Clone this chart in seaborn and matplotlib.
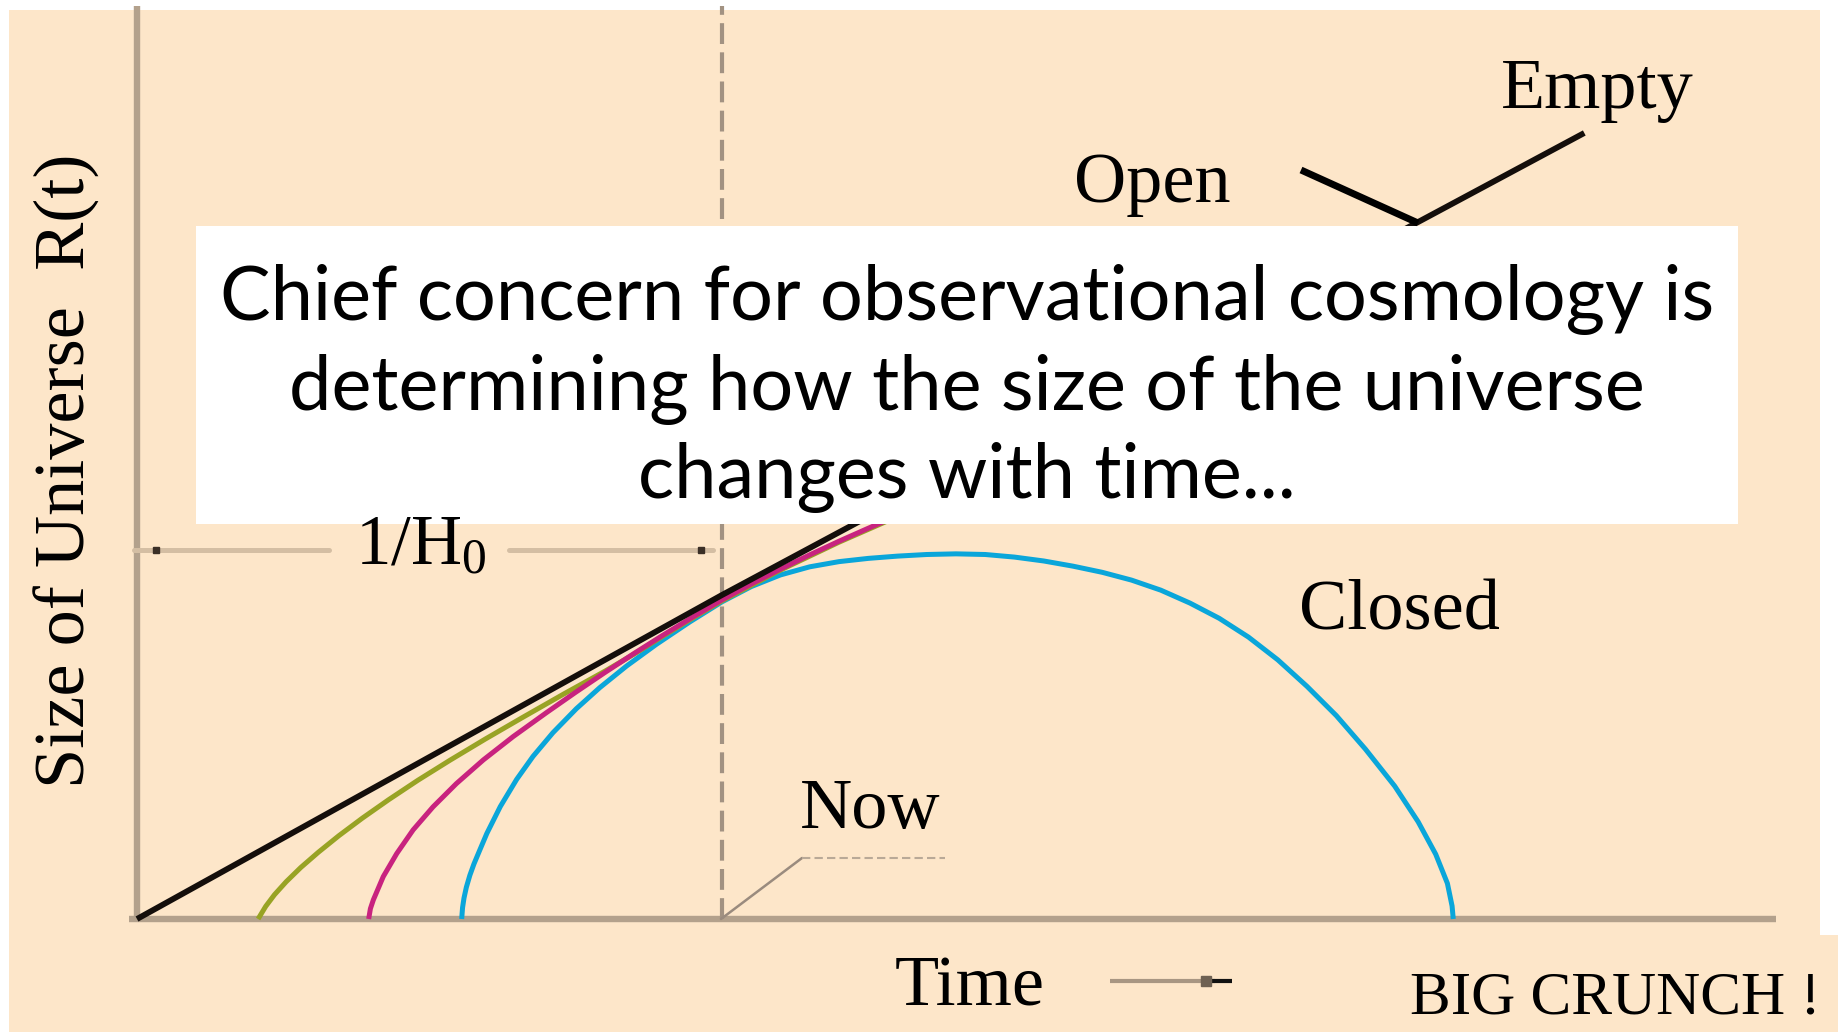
import matplotlib
matplotlib.use("Agg")
import matplotlib.pyplot as plt
from matplotlib.patches import Rectangle
import pandas as pd
import seaborn as sns

# ---------------- data (time in units of 1/H0, size in units of R(now)) ----------------
empty_t = [0.0, 1.0, 2.474]
empty_R = [0.0, 1.0, 2.426]

open_t = [0.207, 0.220, 0.235, 0.255, 0.280, 0.310, 0.345, 0.385, 0.430, 0.480,
          0.535, 0.595, 0.660, 0.730, 0.800, 0.850, 0.900, 0.950, 1.000, 1.100,
          1.200, 1.300]
open_R = [0.000, 0.039, 0.075, 0.115, 0.159, 0.206, 0.257, 0.311, 0.368, 0.428,
          0.490, 0.555, 0.623, 0.695, 0.765, 0.818, 0.874, 0.929, 0.982, 1.077,
          1.163, 1.242]

flat_t = [0.396, 0.399, 0.404, 0.421, 0.444, 0.472, 0.506, 0.546, 0.592, 0.643,
          0.700, 0.750, 0.800, 0.850, 0.900, 0.950, 1.000, 1.050, 1.100, 1.150,
          1.200, 1.250, 1.300, 1.360]
flat_R = [0.000, 0.032, 0.059, 0.131, 0.202, 0.275, 0.346, 0.418, 0.491, 0.563,
          0.637, 0.700, 0.761, 0.820, 0.877, 0.932, 0.985, 1.034, 1.080, 1.124,
          1.166, 1.206, 1.245, 1.290]

closed_t = [0.555, 0.5565, 0.559, 0.563, 0.569, 0.576, 0.586, 0.598, 0.621, 0.649,
            0.677, 0.711, 0.751, 0.791, 0.837, 0.888, 0.945, 1.000, 1.050, 1.100,
            1.150, 1.200, 1.250, 1.300, 1.350, 1.400, 1.450, 1.500, 1.550, 1.600,
            1.650, 1.700, 1.750, 1.800, 1.850, 1.900, 1.950, 2.000, 2.050, 2.100,
            2.150, 2.190, 2.220, 2.240, 2.248, 2.250]
closed_R = [0.000, 0.035, 0.065, 0.098, 0.135, 0.170, 0.213, 0.264, 0.347, 0.431,
            0.502, 0.575, 0.649, 0.714, 0.781, 0.848, 0.917, 0.979, 1.026, 1.062,
            1.087, 1.103, 1.113, 1.120, 1.125, 1.127, 1.125, 1.117, 1.105, 1.089,
            1.070, 1.046, 1.015, 0.975, 0.928, 0.870, 0.800, 0.718, 0.628, 0.524,
            0.410, 0.300, 0.200, 0.110, 0.040, 0.000]

models = ["Closed", "Open", "Flat", "Empty"]          # drawing order (last on top)
colors = {"Closed": "#0aa6da", "Flat": "#c8237f", "Open": "#98a324", "Empty": "#140e0b"}
widths = {"Closed": 3.6, "Flat": 3.6, "Open": 3.6, "Empty": 4.2}

box_lines = ["Chief concern for observational cosmology is",
             "determining how the size of the universe",
             "changes with time..."]
ylabel = "Size of Universe  R(t)"
xlabel = "Time"

# ---------------- figure ----------------
sns.set_theme(style="white")
plt.rcParams["font.family"] = ["Liberation Serif", "DejaVu Serif"]
plt.rcParams["mathtext.fontset"] = "custom"
plt.rcParams["mathtext.rm"] = "Liberation Serif"
plt.rcParams["mathtext.it"] = "Liberation Serif:italic"

W, H = 1838, 1032
fig = plt.figure(figsize=(W / 100, H / 100), dpi=100, facecolor="white")
ax = fig.add_axes([0, 0, 1, 1])

X0, Y0, SX, SY = 137, 919, 585, 324   # origin pixel and pixels per unit


def tx(x):
    return (x - X0) / SX


def ry(y):
    return (Y0 - y) / SY


ax.set_xlim(tx(0), tx(W))
ax.set_ylim(ry(H), ry(0))
ax.axis("off")

BG = "#fde6c9"
ax.add_patch(Rectangle((tx(9), ry(H)), (1820 - 9) / SX, (H - 10) / SY,
                       facecolor=BG, edgecolor="none", zorder=0))
ax.add_patch(Rectangle((tx(1815), ry(H)), (W - 1815) / SX, (H - 935) / SY,
                       facecolor=BG, edgecolor="none", zorder=0))

# axes lines
AXC = "#b3a18c"
ax.plot([tx(X0), tx(X0)], [0, ry(6)], color=AXC, lw=4.6, zorder=1, solid_capstyle="butt")
ax.plot([tx(129), tx(1776)], [0, 0], color=AXC, lw=4.6, zorder=1, solid_capstyle="butt")
# "now" dashed line
ax.plot([1, 1], [0, ry(6)], color="#a29282", lw=3.0, dashes=(5, 2), zorder=1)

# curves
frames = []
for name, t, r in [("Closed", closed_t, closed_R), ("Flat", flat_t, flat_R),
                   ("Open", open_t, open_R), ("Empty", empty_t, empty_R)]:
    frames.append(pd.DataFrame({"t": t, "R": r, "model": name}))
df = pd.concat(frames, ignore_index=True)
for name in models:
    sns.lineplot(data=df[df["model"] == name], x="t", y="R", color=colors[name],
                 estimator=None, sort=True, linewidth=widths[name], legend=False,
                 ax=ax, zorder=3)
    ax.lines[-1].set_solid_capstyle("butt")
    ax.lines[-1].set_solid_joinstyle("round")

# white text box
ax.add_patch(Rectangle((tx(196), ry(524)), (1738 - 196) / SX, (524 - 226) / SY,
                       facecolor="white", edgecolor="none", zorder=5))
for line, yb in zip(box_lines, [320, 410, 498]):
    ax.text(tx(967), ry(yb), line, ha="center", va="baseline", fontsize=54.5,
            family=["Lato", "DejaVu Sans"], color="black", zorder=6)

# "Open" pointer
ax.plot([tx(1301), tx(1418)], [ry(170), ry(223)], color="black", lw=5,
        solid_capstyle="butt", zorder=6)

# 1/H0 marker
LC = "#d4bea3"
ax.plot([tx(134), tx(329)], [ry(550), ry(550)], color=LC, lw=3.6, zorder=2)
ax.plot([tx(509), tx(713)], [ry(550), ry(550)], color=LC, lw=3.6, zorder=2)
ax.plot([tx(156), tx(701)], [ry(550), ry(550)], ls="none", marker="s", ms=4,
        color="#3a2f26", zorder=2)
ax.text(tx(421), ry(565), r"1/H$_{\mathrm{0}}$", ha="center", va="baseline",
        fontsize=51, color="black", zorder=6)

# Now pointer
ax.plot([tx(721), tx(802)], [ry(919), ry(858)], color="#9a8b7e", lw=1.8, zorder=2)
ax.plot([tx(802), tx(945)], [ry(858), ry(858)], color="#b9a997", lw=1.5,
        dashes=(4, 2), zorder=2)

# Time arrow
ax.plot([tx(1110), tx(1215)], [ry(981), ry(981)], color="#a89682", lw=3, zorder=2,
        solid_capstyle="butt")
ax.plot([tx(1205), tx(1232)], [ry(981), ry(981)], color="#111111", lw=3.0, zorder=2,
        solid_capstyle="butt")
ax.plot([tx(1206)], [ry(981)], ls="none", marker="s", ms=7, color="#6e6153", zorder=2)

# serif labels
serif = dict(color="black", zorder=6, va="baseline", ha="center")
ax.text(tx(1597), ry(108), "Empty", fontsize=52, **serif)
ax.text(tx(1152), ry(202), "Open", fontsize=52, **serif)
ax.text(tx(1399), ry(629), "Closed", fontsize=52, **serif)
ax.text(tx(870), ry(828), "Now", fontsize=52, **serif)
ax.text(tx(970), ry(1005), xlabel, fontsize=52, **serif)
ax.text(tx(1615), ry(1013), "BIG CRUNCH !", fontsize=44, **serif)
ax.text(tx(67), ry(471), ylabel, fontsize=52, rotation=90, ha="center",
        va="center", color="black", zorder=6)

fig.savefig("out.png", dpi=100, facecolor="white")
